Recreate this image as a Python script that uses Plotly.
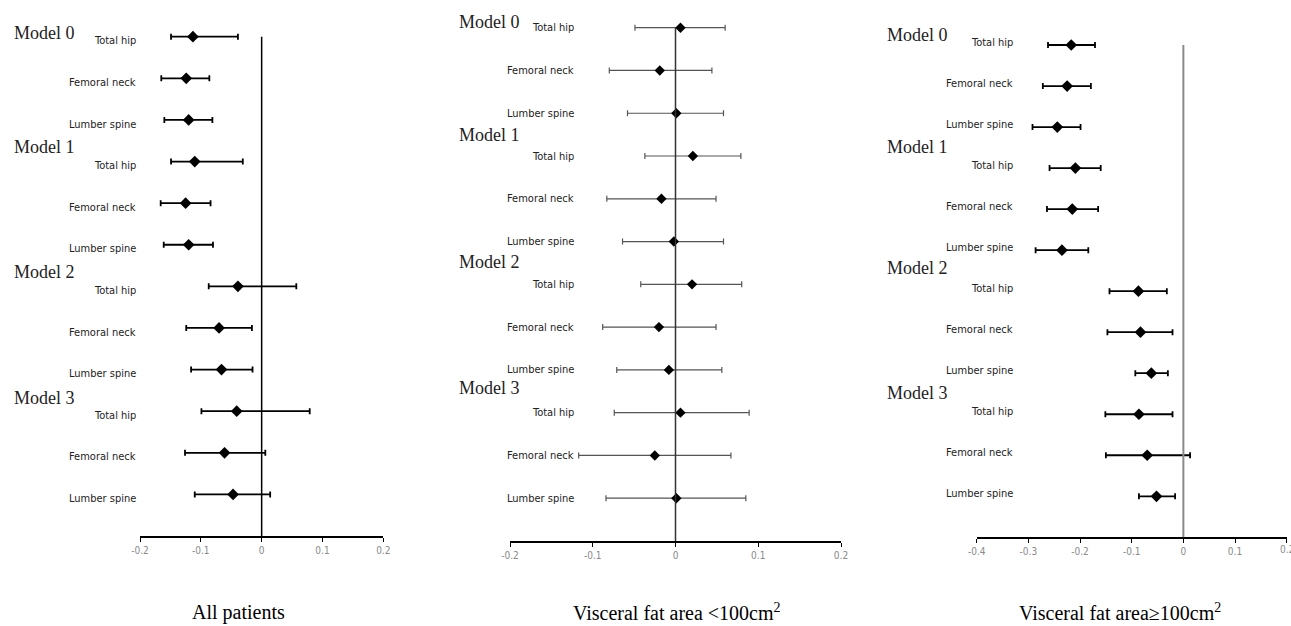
import plotly.graph_objects as go

# ---------------- data ----------------
models = ["Model 0", "Model 1", "Model 2", "Model 3"]
sites = ["Total hip", "Femoral neck", "Lumber spine"]
panel_titles = ["All patients", "Visceral fat area <100cm<sup>2</sup>", "Visceral fat area≥100cm<sup>2</sup>"]

all_est = [-0.113, -0.124, -0.120, -0.110, -0.125, -0.120, -0.039, -0.070, -0.066, -0.041, -0.061, -0.047]
all_lo = [-0.149, -0.165, -0.160, -0.149, -0.166, -0.161, -0.087, -0.124, -0.116, -0.099, -0.126, -0.110]
all_hi = [-0.039, -0.086, -0.081, -0.031, -0.084, -0.080, 0.057, -0.016, -0.015, 0.079, 0.006, 0.014]

low_est = [0.006, -0.019, 0.001, 0.021, -0.017, -0.002, 0.020, -0.020, -0.008, 0.006, -0.025, 0.001]
low_lo = [-0.049, -0.080, -0.058, -0.037, -0.083, -0.064, -0.042, -0.088, -0.071, -0.074, -0.117, -0.084]
low_hi = [0.060, 0.044, 0.058, 0.079, 0.049, 0.058, 0.080, 0.049, 0.056, 0.089, 0.067, 0.085]

high_est = [-0.217, -0.225, -0.244, -0.209, -0.215, -0.235, -0.087, -0.083, -0.062, -0.086, -0.070, -0.052]
high_lo = [-0.262, -0.272, -0.292, -0.259, -0.264, -0.286, -0.143, -0.147, -0.093, -0.151, -0.150, -0.086]
high_hi = [-0.171, -0.179, -0.199, -0.160, -0.165, -0.184, -0.032, -0.021, -0.030, -0.021, 0.013, -0.016]

ticks_a = [-0.2, -0.1, 0, 0.1, 0.2]
ticks_c = [-0.4, -0.3, -0.2, -0.1, 0, 0.1, 0.2]

# ---------------- layout / style ----------------
W, H = 1291, 626
SERIF = "Liberation Serif, Times New Roman, serif"
NARROW = "Liberation Sans Narrow, DejaVu Sans Condensed, Arial Narrow, sans-serif"
TICKFONT = dict(family=NARROW, size=10, color="#8a8a8a")

panels = [
    dict(est=all_est, lo=all_lo, hi=all_hi, ticks=ticks_a,
         xpx=(140, 383.3), top_px=15.9, bot_px=536,
         bar_color="black", bar_w=1.8, zl_color="black", zl_w=1.5, msize=9, msym="diamond",
         lab_right=138, model_left=12, lab_off=0.1, model_off=[-0.09, 2.64, 5.65, 8.69],
         title_x=238, axis_w=1.5, edge_tick=False),
    dict(est=low_est, lo=low_lo, hi=low_hi, ticks=ticks_a,
         xpx=(510, 841), top_px=6.3, bot_px=541,
         bar_color="#555555", bar_w=1.2, zl_color="#333333", zl_w=1.5, msize=8, msym="diamond",
         lab_right=576, model_left=457, lab_off=0.0, model_off=[-0.14, 2.51, 5.47, 8.43],
         title_x=677, axis_w=2, edge_tick=False),
    dict(est=high_est, lo=high_lo, hi=high_hi, ticks=ticks_c,
         xpx=(976.7, 1286.7), top_px=24.5, bot_px=537.3,
         bar_color="black", bar_w=1.8, zl_color="#8a8a8a", zl_w=2, msize=9, msym="diamond",
         lab_right=1015, model_left=885, lab_off=-0.06, model_off=[-0.24, 2.48, 5.44, 8.49],
         title_x=1120, axis_w=1.5, edge_tick=True),
]

n_rows = len(models) * len(sites)
fig = go.Figure()
annotations = []
shapes = []


def fmt(v):
    return "0" if v == 0 else f"{v:g}"


for i, p in enumerate(panels, start=1):
    xa = "x" if i == 1 else f"x{i}"
    ya = "y" if i == 1 else f"y{i}"
    rows = list(range(n_rows))
    plus = [h - e for h, e in zip(p["hi"], p["est"])]
    minus = [e - l for e, l in zip(p["est"], p["lo"])]
    fig.add_trace(go.Scatter(
        x=p["est"], y=rows, mode="markers", xaxis=xa, yaxis=ya,
        marker=dict(symbol=p["msym"], size=p["msize"], color="black"),
        error_x=dict(type="data", symmetric=False, array=plus, arrayminus=minus,
                     color=p["bar_color"], thickness=p["bar_w"], width=3),
        cliponaxis=False, showlegend=False, hoverinfo="x"))

    t = p["ticks"]
    xdom = [p["xpx"][0] / W, p["xpx"][1] / W]
    ydom = [1 - p["bot_px"] / H, 1 - p["top_px"] / H]
    fig.layout[("xaxis" if i == 1 else f"xaxis{i}")] = dict(
        domain=xdom, anchor=ya, range=[t[0], t[-1]], tickvals=t,
        ticktext=[fmt(v) for v in t],
        showline=True, linecolor="black", linewidth=p["axis_w"],
        ticks="outside", ticklen=4, tickcolor="black", tickwidth=1,
        showgrid=False, zeroline=False, automargin=False,
        tickfont=TICKFONT)
    fig.layout[("yaxis" if i == 1 else f"yaxis{i}")] = dict(
        domain=ydom, anchor=xa, range=[n_rows, -0.5], visible=False,
        showgrid=False, zeroline=False, automargin=False)

    # tick label at the page edge (plotly hides it; reference shows it clipped)
    if p["edge_tick"]:
        annotations.append(dict(
            text=fmt(t[-1]), xref=xa, yref="paper", x=t[-1],
            y=1 - (p["bot_px"] + 5) / H, xanchor="center", yanchor="top",
            showarrow=False, font=TICKFONT))

    # zero reference line
    shapes.append(dict(type="line", xref=xa, yref=ya, x0=0, x1=0, y0=0, y1=n_rows,
                       line=dict(color=p["zl_color"], width=p["zl_w"])))

    # site labels
    for r in rows:
        annotations.append(dict(
            text=sites[r % len(sites)], xref="paper", yref=ya,
            x=p["lab_right"] / W, y=r + p["lab_off"], xanchor="right", yanchor="middle",
            showarrow=False, font=dict(family=NARROW, size=11, color="#222222")))
    # model labels
    for k, m in enumerate(models):
        annotations.append(dict(
            text=m, xref="paper", yref=ya, x=p["model_left"] / W, y=p["model_off"][k],
            xanchor="left", yanchor="middle", showarrow=False,
            font=dict(family=SERIF, size=18, color="#222222")))
    # panel title
    annotations.append(dict(
        text=panel_titles[i - 1], xref="paper", yref="paper",
        x=p["title_x"] / W, y=1 - 612 / H, xanchor="center", yanchor="middle",
        showarrow=False, font=dict(family=SERIF, size=20, color="black")))

fig.update_layout(
    width=W, height=H, autosize=False,
    margin=dict(l=0, r=0, t=0, b=0, autoexpand=False),
    paper_bgcolor="white", plot_bgcolor="white",
    annotations=annotations, shapes=shapes, showlegend=False)

fig.write_html(
    "out.html",
    config={"responsive": False, "displayModeBar": False},
    post_script="document.body.style.margin='0';document.body.style.overflow='hidden';",
)
